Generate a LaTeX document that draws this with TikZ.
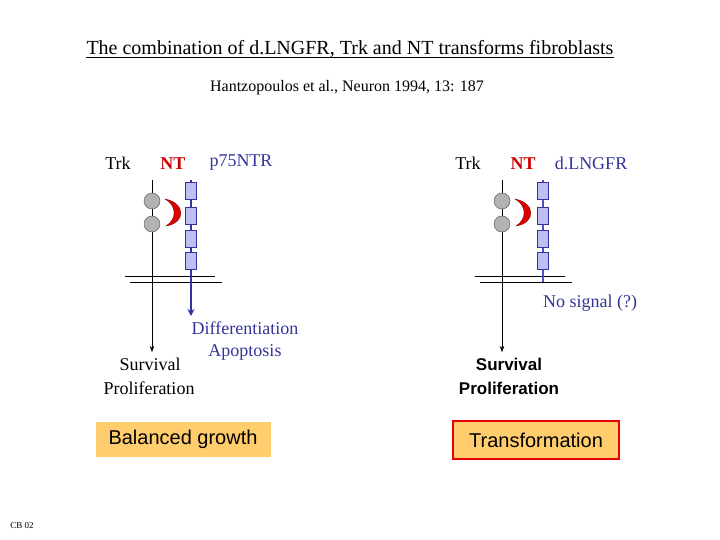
\documentclass[tikz,border=0pt]{standalone}
\usepackage{fontspec}
\setmainfont{Liberation Serif}
\newfontfamily\arial{Liberation Sans}
\usetikzlibrary{arrows.meta}
\definecolor{ntred}{RGB}{204,0,0}
\definecolor{crred}{RGB}{220,0,0}
\definecolor{crdark}{RGB}{120,0,0}
\definecolor{txblue}{RGB}{51,51,153}
\definecolor{arblue}{RGB}{50,50,160}
\definecolor{lnblue}{RGB}{80,80,200}
\definecolor{domfill}{RGB}{190,190,245}
\definecolor{resfill}{RGB}{255,204,110}
\definecolor{resred}{RGB}{230,0,0}
\begin{document}
\begin{tikzpicture}[x=1pt,y=-1pt,
  lbl/.style={inner sep=0pt,font=\fontsize{18}{20}\selectfont},
  blu/.style={lbl,text=txblue},
  dom/.style={draw=arblue,fill=domfill,minimum width=11pt,minimum height=17pt,inner sep=0pt},
  ball/.style={circle,draw=black!70,fill=black!30,minimum size=16pt,inner sep=0pt},
  res/.style={fill=resfill,font=\arial\fontsize{20}{22}\selectfont,inner sep=5pt}]
\useasboundingbox (0,0) rectangle (720,540);
\node[lbl,font=\fontsize{20}{22}\selectfont] (title) at (350,49) {The combination of d.LNGFR, Trk and NT transforms fibroblasts};
\draw[line width=0.8pt] ([yshift=-3pt]title.base west) -- ([yshift=-3pt]title.base east);
\node[lbl,font=\fontsize{16}{18}\selectfont] (sub) at (347,88) {Hantzopoulos et al., Neuron 1994, 13: 187};
\node[lbl,font=\fontsize{9}{10}\selectfont] (cb) at (22,526) {CB 02};
\foreach \o/\nm in {0/L,350/R}{
  \begin{scope}[xshift=\o]
  \node[lbl] (trk\nm) at (118,163) {Trk};
  \node[lbl,text=ntred,font=\bfseries\fontsize{18}{20}\selectfont] (nt\nm) at (173,164) {NT};
  \coordinate (ta\nm) at (152,180);
  \coordinate (tb\nm) at (152,352);
  \draw[-{Stealth[length=6pt]}] (ta\nm) -- (tb\nm);
  \draw (125,276) -- (215,276) (130,282) -- (222,282);
  \node[ball] (c1\nm) at (152,201) {};
  \node[ball] (c2\nm) at (152,224) {};
  \filldraw[fill=crred,draw=crdark,line width=0.3pt]
    (165,199) .. controls (186,203) and (186,223) .. (166,226)
    .. controls (177,219) and (177,206) .. (165,199) -- cycle;
  \end{scope}}
\node[blu] (p75) at (241,163) {p75NTR};
\node[blu] (dl) at (591,163) {d.LNGFR};
\coordinate (pa) at (191,180);
\coordinate (pb) at (191,316);
\draw[line width=2pt,arblue,-{Stealth[length=7pt,width=7pt]}] (pa) -- (pb);
\coordinate (qa) at (543,180);
\coordinate (qb) at (543,282);
\draw[line width=1.5pt,lnblue] (qa) -- (qb);
\foreach \y [count=\i] in {191,216,239,261}{
  \node[dom] (dL\i) at (191,\y) {};
  \node[dom] (dR\i) at (543,\y) {};}
\node[blu] (diff) at (245,328) {Differentiation};
\node[blu] (apo) at (245,352) {Apoptosis};
\node[lbl] (survL) at (150,364) {Survival};
\node[lbl] (proL) at (149,388) {Proliferation};
\node[blu] (nos) at (590,303) {No signal (?)};
\node[lbl,font=\arial\bfseries\fontsize{17}{19}\selectfont] (survR) at (509,364) {Survival};
\node[lbl,font=\arial\bfseries\fontsize{17}{19}\selectfont] (proR) at (509,388) {Proliferation};
\node[res,minimum width=175pt,minimum height=35pt] (bal) at (183,439) {Balanced growth};
\node[res,draw=resred,line width=2pt,minimum width=166pt,minimum height=38pt] (tr) at (536,440) {Transformation};
\end{tikzpicture}
\end{document}
